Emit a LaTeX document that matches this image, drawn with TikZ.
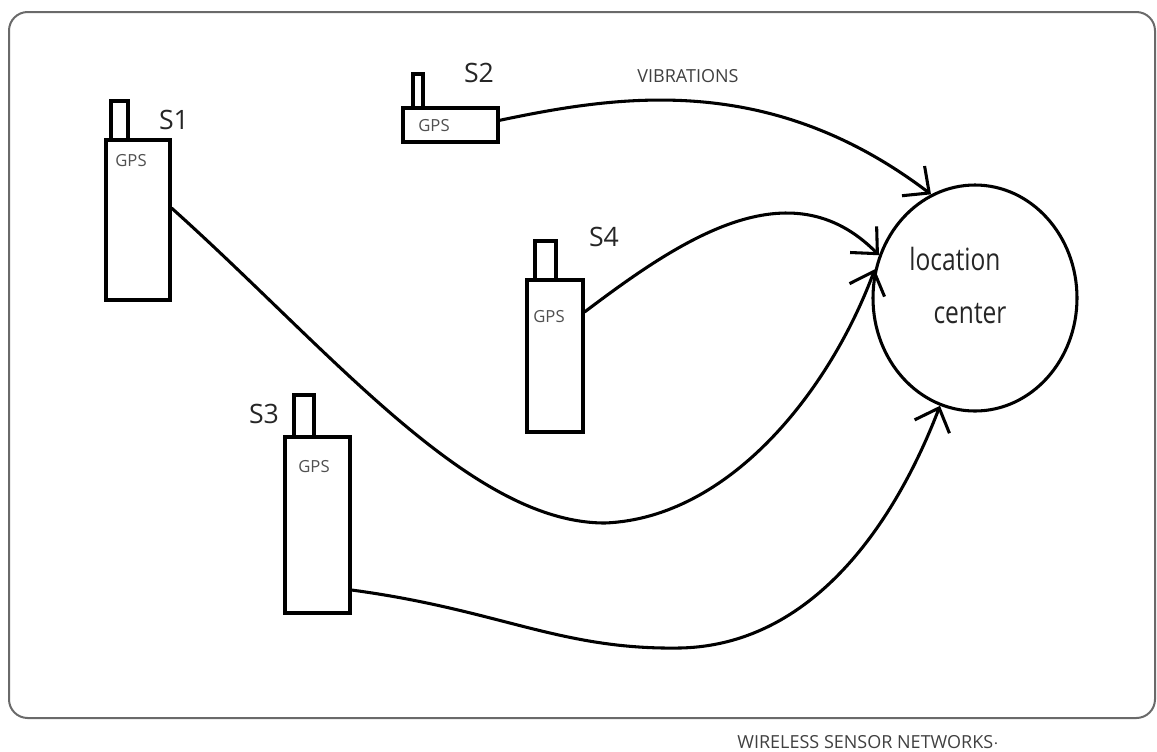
\documentclass[tikz,border=0pt]{standalone}
\usepackage{fontspec}
\setmainfont{Open Sans}
\newfontfamily\hand[FakeStretch=0.8]{Open Sans}
\usetikzlibrary{arrows.meta,shapes.geometric}
\definecolor{framegray}{HTML}{6A6A6A}
\definecolor{gpsgray}{HTML}{505050}
\tikzset{
  body/.style={draw=black,line width=2.3pt,fill=white,rectangle,inner sep=0pt},
  ant/.style={draw=black,line width=2.3pt,fill=white,rectangle,inner sep=0pt},
  gps/.style={font=\fontsize{12.5}{12.5}\selectfont,text=gpsgray,inner sep=0pt},
  sname/.style={font=\fontsize{20}{20}\selectfont,text=black!85,inner sep=0pt},
  link/.style={line width=2.3pt,black,-{Straight Barb[length=15pt,width=28pt,line width=2.3pt]}},
  ctr/.style={font=\hand\fontsize{23}{23}\selectfont,text=black!85,inner sep=0pt},
  note/.style={font=\fontsize{13.5}{13.5}\selectfont,text=black!75,inner sep=0pt}
}
\begin{document}
\begin{tikzpicture}[x=0.75pt,y=-0.75pt]
\useasboundingbox (0,0) rectangle (1157,751);
\draw[framegray,line width=1.5pt,rounded corners=14pt] (9,12) rectangle (1155,718);

% S1
\node[body,minimum width=48pt,minimum height=120pt] (s1) at (138,220) {};
\node[ant,minimum width=12.75pt,minimum height=29.25pt] (s1a) at (119.5,120.5) {};
\node[gps] (s1g) at (131,161) {GPS};
\node[sname] (s1n) at (174,120) {S1};

% S2
\node[body,minimum width=71.25pt,minimum height=25.5pt] (s2) at (450.5,125) {};
\node[ant,minimum width=7.5pt,minimum height=25.5pt] (s2a) at (418,91) {};
\node[gps] (s2g) at (434,126) {GPS};
\node[sname] (s2n) at (479,73) {S2};

% S4
\node[body,minimum width=42pt,minimum height=114pt] (s4) at (555,356) {};
\node[ant,minimum width=15.75pt,minimum height=29.25pt] (s4a) at (545.5,260.5) {};
\node[gps] (s4g) at (549,317) {GPS};
\node[sname] (s4n) at (604,237) {S4};

% S3
\node[body,minimum width=48.75pt,minimum height=132pt] (s3) at (317.5,525) {};
\node[ant,minimum width=15pt,minimum height=31.5pt] (s3a) at (304,416) {};
\node[gps] (s3g) at (314,467) {GPS};
\node[sname] (s3n) at (264,414) {S3};

% location center
\node[ellipse,draw=black,line width=2.3pt,minimum width=153pt,minimum height=169.5pt,inner sep=0pt] (lc) at (975,298) {};
\node[ctr] (lc1) at (955,259) {location};
\node[ctr] (lc2) at (970,314) {center};

% labels
\node[note] (vib) at (688,76) {VIBRATIONS};
\node[note] (wsn) at (868,742) {WIRELESS SENSOR NETWORKS$\cdot$};

% connectors
\draw[link] ([yshift=3.5pt]s2.east) .. controls (620,95) and (770,72) .. (lc.113);
\draw[link] ([yshift=33pt]s4.east) .. controls (680,240) and (790,165) .. (lc.156);
\draw[link] ([yshift=9pt]s1.east) .. controls (330,350) and (470,523) .. (605,523)
   .. controls (730,518) and (830,390) .. (lc.164);
\draw[link] ([yshift=-48.75pt]s3.east) .. controls (500,610) and (560,650) .. (680,648)
   .. controls (820,645) and (900,510) .. (lc.252);
\end{tikzpicture}
\end{document}
